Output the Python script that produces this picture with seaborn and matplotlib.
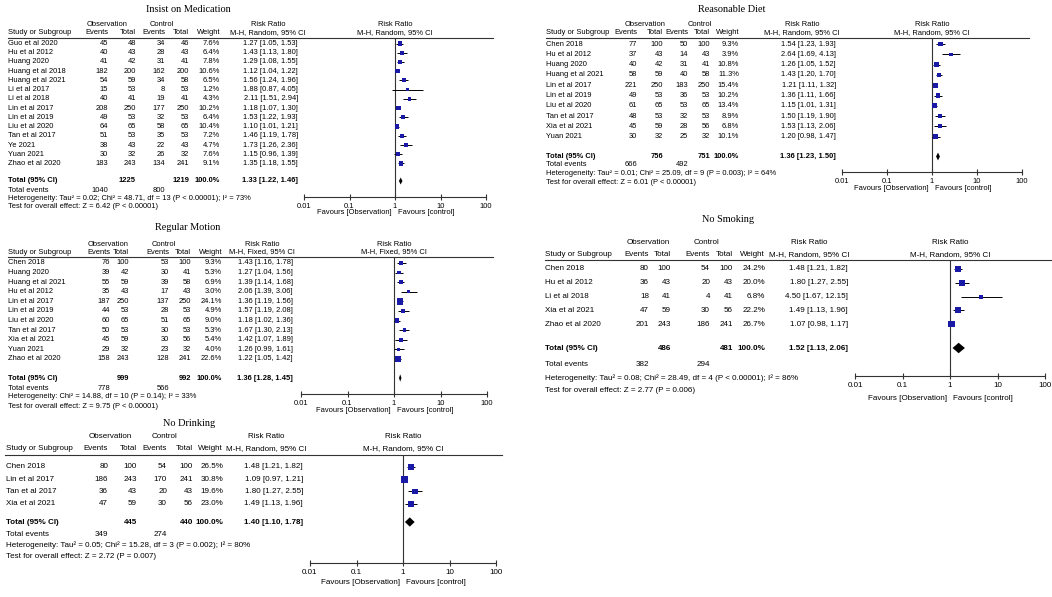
import numpy as np
import pandas as pd
import seaborn as sns
import matplotlib
matplotlib.use("Agg")
import matplotlib.pyplot as plt
from matplotlib import font_manager as fm
from matplotlib.ticker import NullLocator

W, H = 1052, 597

# ---------------- data ----------------
# Insist on Medication (M-H, Random)
med_study = ["Guo et al 2020", "Hu et al 2012", "Huang 2020", "Huang et al 2018", "Huang et al 2021",
             "Li et al 2017", "Li et al 2018", "Lin et al 2017", "Lin et al 2019", "Liu et al 2020",
             "Tan et al 2017", "Ye 2021", "Yuan 2021", "Zhao et al 2020"]
med_obs_ev = [45, 40, 41, 182, 54, 15, 40, 208, 49, 64, 51, 38, 30, 183]
med_obs_tot = [48, 43, 42, 200, 59, 53, 41, 250, 53, 65, 53, 43, 32, 243]
med_ctl_ev = [34, 28, 31, 162, 34, 8, 19, 177, 32, 58, 35, 22, 26, 134]
med_ctl_tot = [46, 43, 41, 200, 58, 53, 41, 250, 53, 65, 53, 43, 32, 241]
med_weight = [7.6, 6.4, 7.8, 10.6, 6.5, 1.2, 4.3, 10.2, 6.4, 10.4, 7.2, 4.7, 7.6, 9.1]
med_rr = [1.27, 1.43, 1.29, 1.12, 1.56, 1.88, 2.11, 1.18, 1.53, 1.10, 1.46, 1.73, 1.15, 1.35]
med_lo = [1.05, 1.13, 1.08, 1.04, 1.24, 0.87, 1.51, 1.07, 1.22, 1.01, 1.19, 1.26, 0.96, 1.18]
med_hi = [1.53, 1.80, 1.55, 1.22, 1.96, 4.05, 2.94, 1.30, 1.93, 1.21, 1.78, 2.36, 1.39, 1.55]
med_totals = [1225, 1219]
med_events = [1040, 800]
med_pooled = [1.33, 1.22, 1.46]
med_het = "Heterogeneity: Tau² = 0.02; Chi² = 48.71, df = 13 (P < 0.00001); I² = 73%"
med_test = "Test for overall effect: Z = 6.42 (P < 0.00001)"

# Regular Motion (M-H, Fixed)
mot_study = ["Chen 2018", "Huang 2020", "Huang et al 2021", "Hu et al 2012", "Lin et al 2017",
             "Lin et al 2019", "Liu et al 2020", "Tan et al 2017", "Xia et al 2021", "Yuan 2021",
             "Zhao et al 2020"]
mot_obs_ev = [76, 39, 55, 35, 187, 44, 60, 50, 45, 29, 158]
mot_obs_tot = [100, 42, 59, 43, 250, 53, 65, 53, 59, 32, 243]
mot_ctl_ev = [53, 30, 39, 17, 137, 28, 51, 30, 30, 23, 128]
mot_ctl_tot = [100, 41, 58, 43, 250, 53, 65, 53, 56, 32, 241]
mot_weight = [9.3, 5.3, 6.9, 3.0, 24.1, 4.9, 9.0, 5.3, 5.4, 4.0, 22.6]
mot_rr = [1.43, 1.27, 1.39, 2.06, 1.36, 1.57, 1.18, 1.67, 1.42, 1.26, 1.22]
mot_lo = [1.16, 1.04, 1.14, 1.39, 1.19, 1.19, 1.02, 1.30, 1.07, 0.99, 1.05]
mot_hi = [1.78, 1.56, 1.68, 3.06, 1.56, 2.08, 1.36, 2.13, 1.89, 1.61, 1.42]
mot_totals = [999, 992]
mot_events = [778, 566]
mot_pooled = [1.36, 1.28, 1.45]
mot_het = "Heterogeneity: Chi² = 14.88, df = 10 (P = 0.14); I² = 33%"
mot_test = "Test for overall effect: Z = 9.75 (P < 0.00001)"

# No Drinking (M-H, Random)
drk_study = ["Chen 2018", "Lin et al 2017", "Tan et al 2017", "Xia et al 2021"]
drk_obs_ev = [80, 186, 36, 47]
drk_obs_tot = [100, 243, 43, 59]
drk_ctl_ev = [54, 170, 20, 30]
drk_ctl_tot = [100, 241, 43, 56]
drk_weight = [26.5, 30.8, 19.6, 23.0]
drk_rr = [1.48, 1.09, 1.80, 1.49]
drk_lo = [1.21, 0.97, 1.27, 1.13]
drk_hi = [1.82, 1.21, 2.55, 1.96]
drk_totals = [445, 440]
drk_events = [349, 274]
drk_pooled = [1.40, 1.10, 1.78]
drk_het = "Heterogeneity: Tau² = 0.05; Chi² = 15.28, df = 3 (P = 0.002); I² = 80%"
drk_test = "Test for overall effect: Z = 2.72 (P = 0.007)"

# Reasonable Diet (M-H, Random)
diet_study = ["Chen 2018", "Hu et al 2012", "Huang 2020", "Huang et al 2021", "Lin et al 2017",
              "Lin et al 2019", "Liu et al 2020", "Tan et al 2017", "Xia et al 2021", "Yuan 2021"]
diet_obs_ev = [77, 37, 40, 58, 221, 49, 61, 48, 45, 30]
diet_obs_tot = [100, 43, 42, 59, 250, 53, 65, 53, 59, 32]
diet_ctl_ev = [50, 14, 31, 40, 183, 36, 53, 32, 28, 25]
diet_ctl_tot = [100, 43, 41, 58, 250, 53, 65, 53, 56, 32]
diet_weight = [9.3, 3.9, 10.8, 11.3, 15.4, 10.2, 13.4, 8.9, 6.8, 10.1]
diet_rr = [1.54, 2.64, 1.26, 1.43, 1.21, 1.36, 1.15, 1.50, 1.53, 1.20]
diet_lo = [1.23, 1.69, 1.05, 1.20, 1.11, 1.11, 1.01, 1.19, 1.13, 0.98]
diet_hi = [1.93, 4.13, 1.52, 1.70, 1.32, 1.66, 1.31, 1.90, 2.06, 1.47]
diet_totals = [756, 751]
diet_events = [666, 492]
diet_pooled = [1.36, 1.23, 1.50]
diet_het = "Heterogeneity: Tau² = 0.01; Chi² = 25.09, df = 9 (P = 0.003); I² = 64%"
diet_test = "Test for overall effect: Z = 6.01 (P < 0.00001)"

# No Smoking (M-H, Random)
smk_study = ["Chen 2018", "Hu et al 2012", "Li et al 2018", "Xia et al 2021", "Zhao et al 2020"]
smk_obs_ev = [80, 36, 18, 47, 201]
smk_obs_tot = [100, 43, 41, 59, 243]
smk_ctl_ev = [54, 20, 4, 30, 186]
smk_ctl_tot = [100, 43, 41, 56, 241]
smk_weight = [24.2, 20.0, 6.8, 22.2, 26.7]
smk_rr = [1.48, 1.80, 4.50, 1.49, 1.07]
smk_lo = [1.21, 1.27, 1.67, 1.13, 0.98]
smk_hi = [1.82, 2.55, 12.15, 1.96, 1.17]
smk_totals = [486, 481]
smk_events = [382, 294]
smk_pooled = [1.52, 1.13, 2.06]
smk_het = "Heterogeneity: Tau² = 0.08; Chi² = 28.49, df = 4 (P < 0.00001); I² = 86%"
smk_test = "Test for overall effect: Z = 2.77 (P = 0.006)"

tick_vals = [0.01, 0.1, 1, 10, 100]
tick_labels = ["0.01", "0.1", "1", "10", "100"]

# ---------------- fonts ----------------
try:
    fm.findfont(fm.FontProperties(family="Liberation Sans Narrow"), fallback_to_default=False)
    NARROW, NFS = "Liberation Sans Narrow", 7.0
except ValueError:
    NARROW, NFS = "Liberation Sans", 5.8
ARIAL, AFS = "Liberation Sans", 5.4
SERIF = "Liberation Serif"
BLUE = "#1a1aa6"

fig = plt.figure(figsize=(W / 100, H / 100), dpi=100)
bg = fig.add_axes([0, 0, 1, 1])
bg.set_xlim(0, W)
bg.set_ylim(H, 0)
bg.axis("off")


def panel(name, study, oe, ot, ce, ct, wt, rr, lo, hi, totals, events, pooled, het, test, L):
    f, fs = L["font"], L["fs"]
    c = L["cols"]
    y = L["y0"] + L["dy"] * np.arange(len(study))
    t = dict(family=f, size=fs, va="center")
    tb = dict(t, weight="bold")
    ax0, ax1, yax = L["ax"]
    lx0, lx1, ytop = L["line"]
    xone = (ax0 + ax1) / 2

    bg.text(L["title"][0], L["title"][1], name, family=SERIF, size=7.4, ha="center", va="center")
    # header
    bg.text(L["obs_c"], L["h1"], "Observation", ha="center", **t)
    bg.text(L["ctl_c"], L["h1"], "Control", ha="center", **t)
    bg.text(L["rr_c"], L["h1"], "Risk Ratio", ha="center", **t)
    bg.text(xone, L["h1"], "Risk Ratio", ha="center", **t)
    bg.text(c[0], L["h2"], "Study or Subgroup", ha="left", **t)
    for x, s in zip(c[1:6], ["Events", "Total", "Events", "Total", "Weight"]):
        bg.text(x, L["h2"], s, ha="right", **t)
    bg.text(L["rr_c"], L["h2"], L["method"], ha="center", **t)
    bg.text(xone, L["h2"], L["method"], ha="center", **t)
    bg.plot([lx0, lx1], [ytop, ytop], color="#333333", lw=0.8)

    # study rows
    for i in range(len(study)):
        bg.text(c[0], y[i], study[i], ha="left", **t)
        for x, v in zip(c[1:5], [oe[i], ot[i], ce[i], ct[i]]):
            bg.text(x, y[i], str(v), ha="right", **t)
        bg.text(c[5], y[i], f"{wt[i]:.1f}%", ha="right", **t)
        bg.text(c[6], y[i], f"{rr[i]:.2f} [{lo[i]:.2f}, {hi[i]:.2f}]", ha="right", **t)

    # totals
    bg.text(c[0], L["ytot"], "Total (95% CI)", ha="left", **tb)
    bg.text(c[2], L["ytot"], str(totals[0]), ha="right", **tb)
    bg.text(c[4], L["ytot"], str(totals[1]), ha="right", **tb)
    bg.text(c[5], L["ytot"], "100.0%", ha="right", **tb)
    bg.text(c[6], L["ytot"], f"{pooled[0]:.2f} [{pooled[1]:.2f}, {pooled[2]:.2f}]", ha="right", **tb)
    bg.text(c[0], L["yev"], "Total events", ha="left", **t)
    bg.text(c[1], L["yev"], str(events[0]), ha="right", **t)
    bg.text(c[3], L["yev"], str(events[1]), ha="right", **t)
    bg.text(c[0], L["yhet"], het, ha="left", **t)
    bg.text(c[0], L["ytest"], test, ha="left", **t)

    # forest
    ax = fig.add_axes([ax0 / W, 1 - yax / H, (ax1 - ax0) / W, (yax - ytop) / H])
    ax.patch.set_alpha(0)
    ax.axvline(1, color="#333333", lw=0.8)
    ax.hlines(y, lo, hi, color="black", lw=0.7)
    df = pd.DataFrame({"rr": rr, "y": y, "w": wt})
    sns.scatterplot(data=df, x="rr", y="y", size="w", sizes=(3, 75), size_norm=(0, 100),
                    marker="s", color=BLUE, linewidth=0, legend=False, ax=ax, zorder=3)
    hh = 0.38 * L["dy"]
    p, pl, ph = pooled
    ax.fill([pl, p, ph, p], [L["ytot"], L["ytot"] - hh, L["ytot"], L["ytot"] + hh],
            color="black", lw=0, zorder=3)
    ax.set_xscale("log")
    ax.set_xlim(0.01, 100)
    ax.set_ylim(yax, ytop)
    ax.set_xlabel("")
    ax.set_ylabel("")
    for s in ["top", "left", "right"]:
        ax.spines[s].set_visible(False)
    ax.spines["bottom"].set_linewidth(0.8)
    ax.spines["bottom"].set_color("#333333")
    ax.set_xticks(tick_vals)
    ax.set_xticklabels(tick_labels)
    ax.xaxis.set_minor_locator(NullLocator())
    ax.set_yticks([])
    ax.tick_params(axis="x", direction="inout", length=5, width=0.8, pad=1.5,
                   labelsize=fs, color="#333333")
    for lab in ax.get_xticklabels():
        lab.set_family(f)
    bg.text(xone - 3, L["yfav"], "Favours [Observation]", ha="right", **t)
    bg.text(xone + 3, L["yfav"], "Favours [control]", ha="left", **t)


panel("Insist on Medication", med_study, med_obs_ev, med_obs_tot, med_ctl_ev, med_ctl_tot,
      med_weight, med_rr, med_lo, med_hi, med_totals, med_events, med_pooled, med_het, med_test,
      dict(method="M-H, Random, 95% CI", font=ARIAL, fs=AFS, title=(188, 9), h1=24, h2=33,
           line=(8, 493, 37.5), cols=(8, 108, 136, 165, 189, 220, 298), obs_c=107, ctl_c=162,
           rr_c=268, y0=43.5, dy=9.23, ytot=181, yev=190, yhet=199, ytest=207,
           ax=(304, 486, 197), yfav=212))

panel("Regular Motion", mot_study, mot_obs_ev, mot_obs_tot, mot_ctl_ev, mot_ctl_tot,
      mot_weight, mot_rr, mot_lo, mot_hi, mot_totals, mot_events, mot_pooled, mot_het, mot_test,
      dict(method="M-H, Fixed, 95% CI", font=ARIAL, fs=AFS, title=(188, 228), h1=244, h2=252,
           line=(8, 493, 256.5), cols=(8, 110, 129, 169, 191, 222, 293), obs_c=108, ctl_c=164,
           rr_c=262, y0=263, dy=9.6, ytot=378, yev=388, yhet=397, ytest=407,
           ax=(301, 487, 394), yfav=411))

panel("No Drinking", drk_study, drk_obs_ev, drk_obs_tot, drk_ctl_ev, drk_ctl_tot,
      drk_weight, drk_rr, drk_lo, drk_hi, drk_totals, drk_events, drk_pooled, drk_het, drk_test,
      dict(method="M-H, Random, 95% CI", font=NARROW, fs=NFS, title=(189, 423), h1=437, h2=449,
           line=(5, 502, 455), cols=(6, 108, 137, 167, 193, 223, 303), obs_c=110, ctl_c=165,
           rr_c=266, y0=467, dy=12.2, ytot=522, yev=534, yhet=545, ytest=556,
           ax=(310, 496, 563), yfav=582))

panel("Reasonable Diet", diet_study, diet_obs_ev, diet_obs_tot, diet_ctl_ev, diet_ctl_tot,
      diet_weight, diet_rr, diet_lo, diet_hi, diet_totals, diet_events, diet_pooled, diet_het, diet_test,
      dict(method="M-H, Random, 95% CI", font=ARIAL, fs=AFS, title=(732, 9), h1=24, h2=33,
           line=(546, 1029, 37.5), cols=(546, 637, 663, 688, 710, 739, 836), obs_c=645, ctl_c=700,
           rr_c=802, y0=44, dy=10.3, ytot=156.5, yev=164.5, yhet=173.5, ytest=183,
           ax=(842, 1022, 172), yfav=188))

panel("No Smoking", smk_study, smk_obs_ev, smk_obs_tot, smk_ctl_ev, smk_ctl_tot,
      smk_weight, smk_rr, smk_lo, smk_hi, smk_totals, smk_events, smk_pooled, smk_het, smk_test,
      dict(method="M-H, Random, 95% CI", font=NARROW, fs=NFS, title=(728, 219), h1=242, h2=255,
           line=(545, 1052, 260), cols=(545, 649, 671, 710, 733, 765, 848), obs_c=648, ctl_c=706,
           rr_c=809, y0=269, dy=13.8, ytot=348, yev=365, yhet=378, ytest=391,
           ax=(855, 1045, 376), yfav=398))

fig.savefig("out.png", dpi=100, facecolor="white")
